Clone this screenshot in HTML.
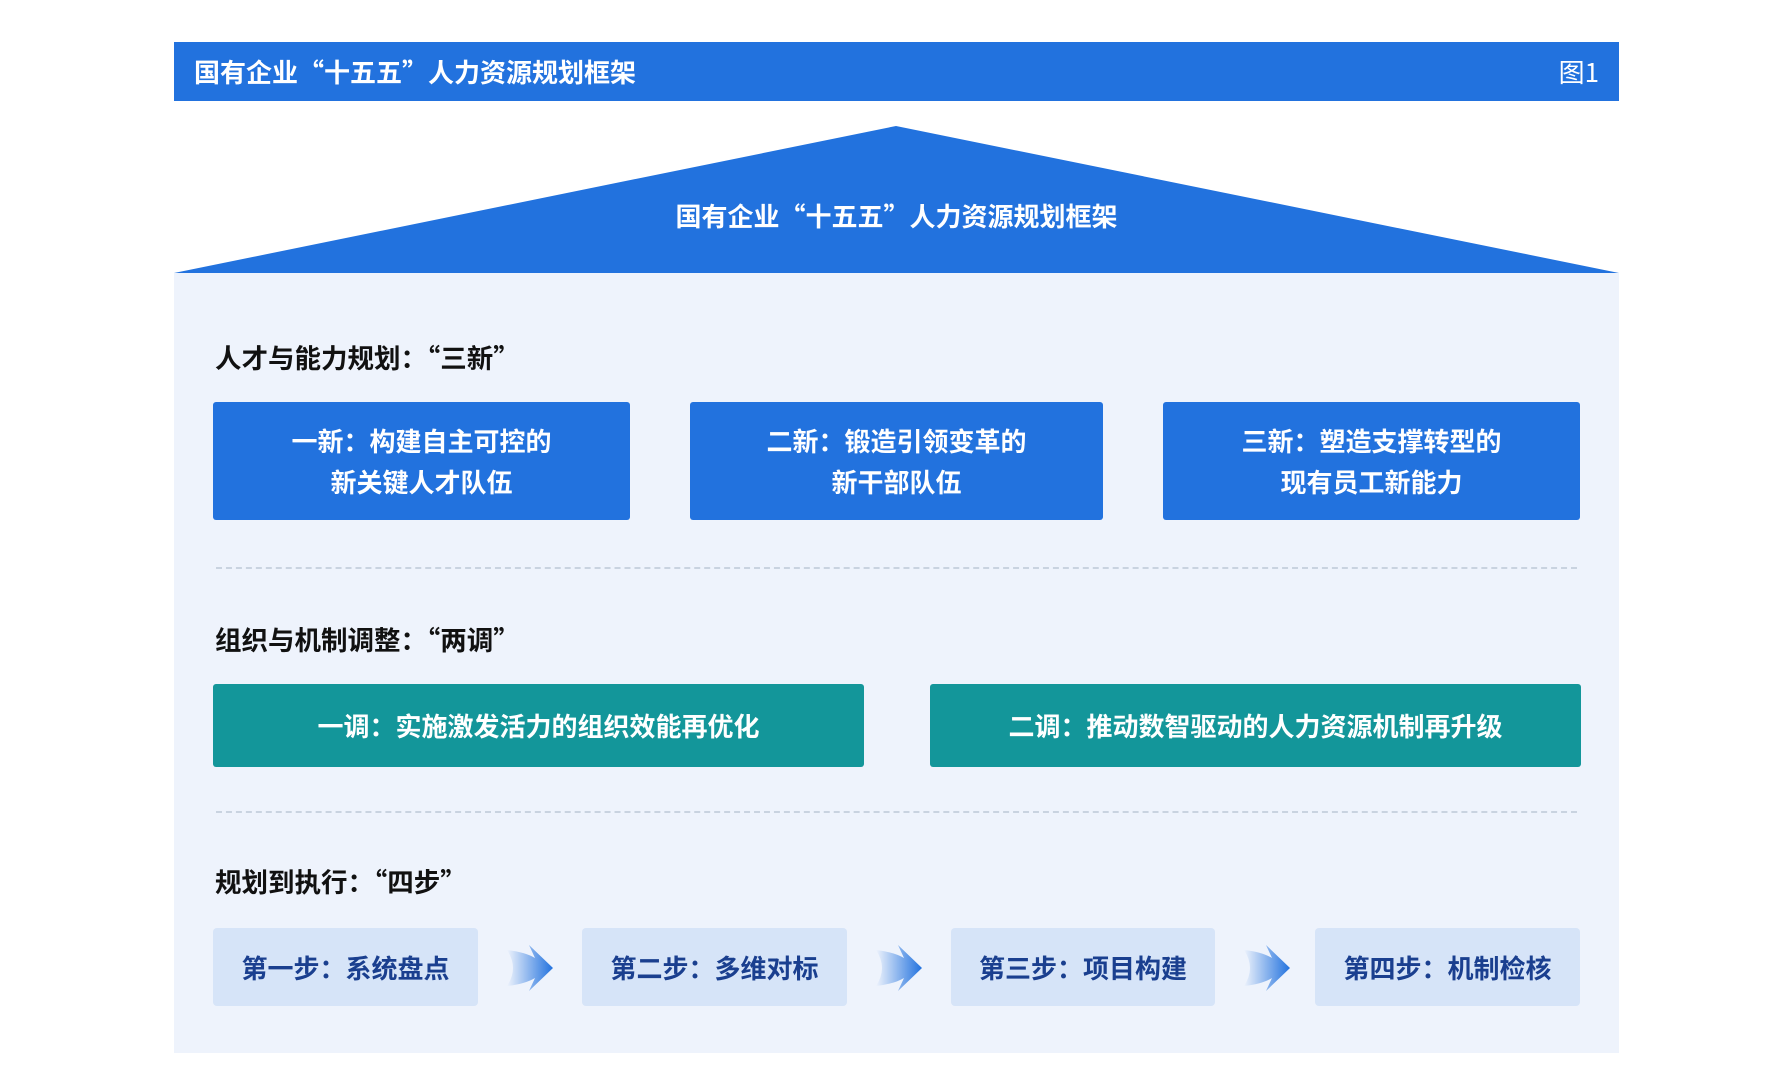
<!DOCTYPE html>
<html><head><meta charset="utf-8"><style>
body{margin:0;width:1785px;height:1084px;background:#fff;position:relative;overflow:hidden;font-family:"Noto Sans CJK SC","Liberation Sans",sans-serif;}
.a{position:absolute;box-sizing:border-box;}
.hdr{left:174px;top:42px;width:1445px;height:59px;background:#2272de;color:#fff;font-size:26px;font-weight:bold;line-height:59px;padding-left:20px;}
.hdr span{position:absolute;right:20px;top:0;font-weight:normal;}
.panel{left:174px;top:273px;width:1445px;height:780px;background:#eef3fc;}
.t{font-size:26.5px;font-weight:bold;color:#111;left:215px;line-height:30px;}
.b{background:#2272de;color:#fff;font-size:26px;font-weight:bold;text-align:center;border-radius:3px;display:flex;align-items:center;justify-content:center;line-height:41px;}
.g{background:#13969a;color:#fff;font-size:26px;font-weight:bold;display:flex;align-items:center;justify-content:center;border-radius:3px;}
.s{background:#d6e4f8;color:#1a3f8f;font-size:26px;font-weight:bold;display:flex;align-items:center;justify-content:center;border-radius:4px;top:928px;height:78px;}
.d{left:216px;width:1361px;border-top:2px dashed #c9d3e0;height:0;}
</style></head><body>
<div class="a hdr">国有企业“十五五”人力资源规划框架<span>图1</span></div>
<div class="a panel"></div>
<svg class="a" style="left:0;top:0" width="1785" height="280"><polygon points="896,126 174,273 1619,273" fill="#2272de"/></svg>
<div class="a" style="left:174px;width:1445px;top:199px;text-align:center;color:#fff;font-size:26px;font-weight:bold;line-height:34px;">国有企业“十五五”人力资源规划框架</div>
<div class="a t" style="top:342px">人才与能力规划：“三新”</div>
<div class="a b" style="left:213px;top:402px;width:417px;height:118px">一新：构建自主可控的<br>新关键人才队伍</div>
<div class="a b" style="left:690px;top:402px;width:413px;height:118px">二新：锻造引领变革的<br>新干部队伍</div>
<div class="a b" style="left:1163px;top:402px;width:417px;height:118px">三新：塑造支撑转型的<br>现有员工新能力</div>
<div class="a d" style="top:567px"></div>
<div class="a t" style="top:624px">组织与机制调整：“两调”</div>
<div class="a g" style="left:213px;top:684px;width:651px;height:83px">一调：实施激发活力的组织效能再优化</div>
<div class="a g" style="left:930px;top:684px;width:651px;height:83px">二调：推动数智驱动的人力资源机制再升级</div>
<div class="a d" style="top:811px"></div>
<div class="a t" style="top:866px">规划到执行：“四步”</div>
<div class="a s" style="left:213px;width:265px">第一步：系统盘点</div>
<div class="a s" style="left:582px;width:265px">第二步：多维对标</div>
<div class="a s" style="left:951px;width:264px">第三步：项目构建</div>
<div class="a s" style="left:1315px;width:265px">第四步：机制检核</div>
<svg class="a" style="left:0;top:940px" width="1785" height="60">
<defs><linearGradient id="gr" x1="0" x2="1"><stop offset="0" stop-color="#2272de" stop-opacity="0"/><stop offset="1" stop-color="#2272de"/></linearGradient></defs>
<g transform="translate(507,0)"><path d="M0,10 Q18,12 28,18 L22,5 L46,28 L22,51 L28,38 Q18,44 0,46 Q12,28 0,10Z" fill="url(#gr)"/></g>
<g transform="translate(876,0)"><path d="M0,10 Q18,12 28,18 L22,5 L46,28 L22,51 L28,38 Q18,44 0,46 Q12,28 0,10Z" fill="url(#gr)"/></g>
<g transform="translate(1244,0)"><path d="M0,10 Q18,12 28,18 L22,5 L46,28 L22,51 L28,38 Q18,44 0,46 Q12,28 0,10Z" fill="url(#gr)"/></g>
</svg>
</body></html>
